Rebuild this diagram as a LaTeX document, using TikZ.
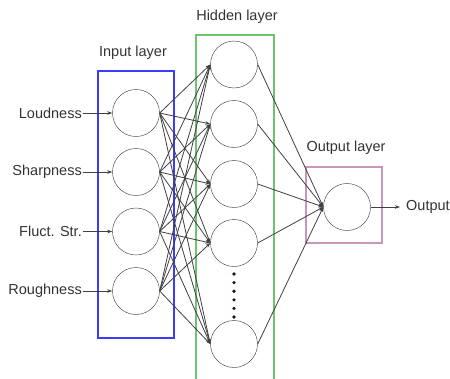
\documentclass[tikz,border=0pt]{standalone}
\usepackage{fontspec}
\setmainfont{Liberation Sans}
\usetikzlibrary{arrows.meta,positioning}
\definecolor{inbox}{RGB}{60,60,250}
\definecolor{hidbox}{RGB}{110,195,110}
\definecolor{outbox}{RGB}{200,150,185}
\definecolor{dotcol}{RGB}{40,10,30}
\tikzset{neuron/.style={draw=black!80,circle,minimum size=47pt,inner sep=0pt},
	conn/.style={draw=black!75,line width=0.8pt,-{Stealth[length=5pt,width=3.5pt]}},
	lbl/.style={font=\fontsize{14.5}{17}\selectfont,text=black!80,inner sep=1pt}}

\begin{document}
\begin{tikzpicture}[x=1pt,y=-1pt]
		\useasboundingbox (0,0) rectangle (450,378);
		% layer boxes
		\draw[draw=inbox,line width=2pt] (98,71) rectangle (174,338);
		\draw[draw=hidbox,line width=2pt] (196,35) rectangle (274,392);
		\draw[draw=outbox,line width=1.8pt] (306,167) rectangle (382,243);
		\node[lbl] (tin) at (133,53) {Input layer};
		\node[lbl] (thid) at (237,17) {Hidden layer};
		\node[lbl] (tout) at (346,148) {Output layer};
		% neurons
		\foreach \n/\y in {1/113,2/172,3/231.5,4/291}
			\node[neuron] (i\n) at (136,\y) {};
		\foreach \n/\y in {1/64.5,2/124,3/184,4/243,5/344}
			\node[neuron] (h\n) at (234,\y) {};
		\node[neuron] (o) at (347,207) {};
		\foreach \k in {0,...,5}
			\fill[dotcol] (234,274+8.6*\k) circle (1.8);
		% inputs
		\foreach \n/\t in {1/Loudness,2/Sharpness,3/Fluct. Str.,4/Roughness}{
			\node[lbl,anchor=east] (x\n) at (83,0|-i\n) {\t};
			\draw[conn] (x\n.east) -- (i\n.west);
		}
		% connections
		\foreach \a in {1,...,4}
			\foreach \b in {1,...,5}
				\draw[conn] (i\a.east) -- (h\b.west);
		\foreach \b in {1,...,5}
			\draw[conn] (h\b.east) -- (o.west);
		\coordinate (oend) at (400,207);
		\draw[conn] (o.east) -- (oend);
		\node[lbl,anchor=west] (y) at (405,207) {Output};
		\end{tikzpicture}
\end{document}
